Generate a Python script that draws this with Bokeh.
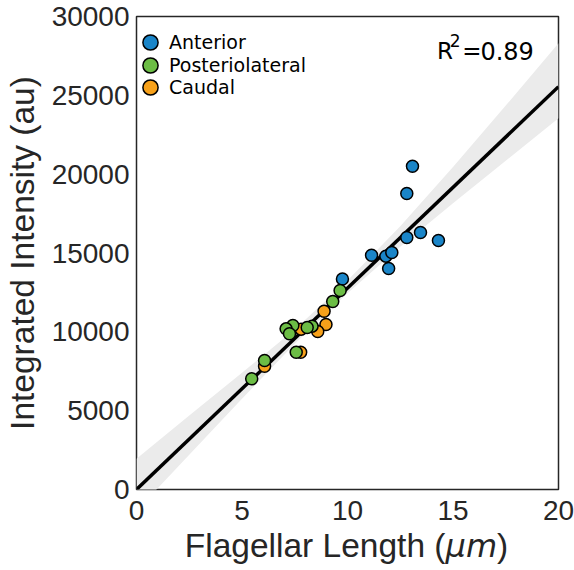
from bokeh.plotting import figure
from bokeh.models import Range1d, FixedTicker, Legend, LegendItem, Label, Div
from bokeh.layouts import column
from bokeh.embed import file_html
from bokeh.resources import INLINE

# ---- data ----
anterior_len = [13.08, 12.81, 12.81, 13.46, 14.31, 11.14, 11.82, 12.10, 11.95, 9.76]
anterior_int = [20500, 18770, 15980, 16300, 15790, 14860, 14800, 15030, 14020, 13350]

caudal_len = [8.89, 8.98, 8.59, 7.80, 7.78, 6.07]
caudal_int = [11310, 10470, 10020, 10170, 8710, 7820]

postero_len = [9.65, 9.30, 8.32, 8.09, 7.41, 7.09, 7.25, 7.57, 6.07, 5.46]
postero_int = [12620, 11920, 10360, 10280, 10400, 10190, 9880, 8710, 8180, 7020]

fit_x = [0, 20]
fit_y = [0, 25550]

band_x = [0, 2.5, 5, 7.5, 10, 12.5, 15, 17.5, 20]
band_hi = [1950, 4700, 7400, 10150, 13250, 16700, 20450, 24350, 28300]
band_lo = [-1350, 2200, 5750, 9250, 12450, 15400, 18150, 20850, 23550]

x_ticks = [0, 5, 10, 15, 20]
y_ticks = [0, 5000, 10000, 15000, 20000, 25000, 30000]

group_names = ["Anterior", "Posteriolateral", "Caudal"]
r2_value = "0.89"

BLUE = "#1a85c8"
GREEN = "#6cbd45"
ORANGE = "#f7a11a"
TXT = "#262626"

p = figure(width=574, height=536, x_range=Range1d(0, 20), y_range=Range1d(0, 30000),
           output_backend="svg", toolbar_location=None,
           min_border_left=135, min_border_right=16, min_border_top=16, min_border_bottom=47)
p.background_fill_color = "white"
p.border_fill_color = "white"
p.xgrid.visible = False
p.ygrid.visible = False
p.outline_line_color = TXT
p.outline_line_width = 1.5
p.outline_line_alpha = 1.0

for ax in (p.xaxis[0], p.yaxis[0]):
    ax.axis_line_color = None
    ax.major_tick_line_color = None
    ax.minor_tick_line_color = None
    ax.major_tick_in = 0
    ax.major_tick_out = 0
    ax.major_label_text_font = "Liberation Sans"
    ax.major_label_text_font_size = "28px"
    ax.major_label_text_color = TXT

p.xaxis.ticker = FixedTicker(ticks=x_ticks)
p.yaxis.ticker = FixedTicker(ticks=y_ticks)
p.xaxis.major_label_standoff = 11
p.yaxis.major_label_standoff = 7

p.yaxis.axis_label = "Integrated Intensity (au)"
p.yaxis.axis_label_text_font = "Liberation Sans"
p.yaxis.axis_label_text_font_size = "33.5px"
p.yaxis.axis_label_text_font_style = "normal"
p.yaxis.axis_label_text_color = TXT
p.yaxis.axis_label_standoff = 8

# confidence band and fit line
p.varea(x=band_x, y1=band_lo, y2=band_hi, fill_color="#ebebeb", fill_alpha=1.0)
p.line(x=fit_x, y=fit_y, line_color="black", line_width=3.5)

# scatter points
r_ant = p.scatter(anterior_len, anterior_int, size=12, fill_color=BLUE, line_color="black", line_width=1.5)
r_cau = p.scatter(caudal_len, caudal_int, size=12, fill_color=ORANGE, line_color="black", line_width=1.5)
r_pos = p.scatter(postero_len, postero_int, size=12, fill_color=GREEN, line_color="black", line_width=1.5)

# one legend per row (gives tight rows with large markers)
legend_rows = [(group_names[0], r_ant, 428), (group_names[1], r_pos, 405), (group_names[2], r_cau, 383)]
for name, rend, ypos in legend_rows:
    lg = Legend(items=[LegendItem(label=name, renderers=[rend])],
                location=(-5, ypos), orientation="vertical",
                glyph_width=38, glyph_height=38, label_height=38, spacing=0,
                label_standoff=0, padding=0, margin=0,
                border_line_color=None, background_fill_alpha=0,
                label_text_font="DejaVu Sans", label_text_font_size="19px",
                label_text_color="black")
    p.add_layout(lg, "center")

# R^2 annotation (mathtext-like spacing)
p.add_layout(Label(x=16.3, y=27840, text=r2_value, text_align="left", text_baseline="alphabetic",
                   text_font="DejaVu Sans", text_font_size="24px", text_color="black"))
p.add_layout(Label(x=15.9, y=27840, text="=", text_align="center", text_baseline="alphabetic",
                   text_font="DejaVu Sans", text_font_size="23px", text_color="black"))
p.add_layout(Label(x=15.36, y=28450, text="2", text_align="right", text_baseline="alphabetic",
                   text_font="DejaVu Sans", text_font_size="17px", text_color="black"))
p.add_layout(Label(x=15.0, y=27840, text="R", text_align="right", text_baseline="alphabetic",
                   text_font="DejaVu Sans", text_font_size="23px", text_color="black"))

# x axis label with italic unit, as real text below the plot
xlabel = Div(text='Flagellar Length (<span style="font-family: \'DejaVu Sans\'; font-style: italic; '
                  'font-size: 32px;">\u03bcm</span>)',
             width=423, height=34, margin=(0, 0, 0, 135),
             styles={"font-family": "Liberation Sans", "font-size": "33.5px", "color": TXT,
                     "text-align": "center", "line-height": "20px", "white-space": "nowrap",
                     "overflow": "visible"})

open("out.html", "w").write(file_html(column(p, xlabel), INLINE))
